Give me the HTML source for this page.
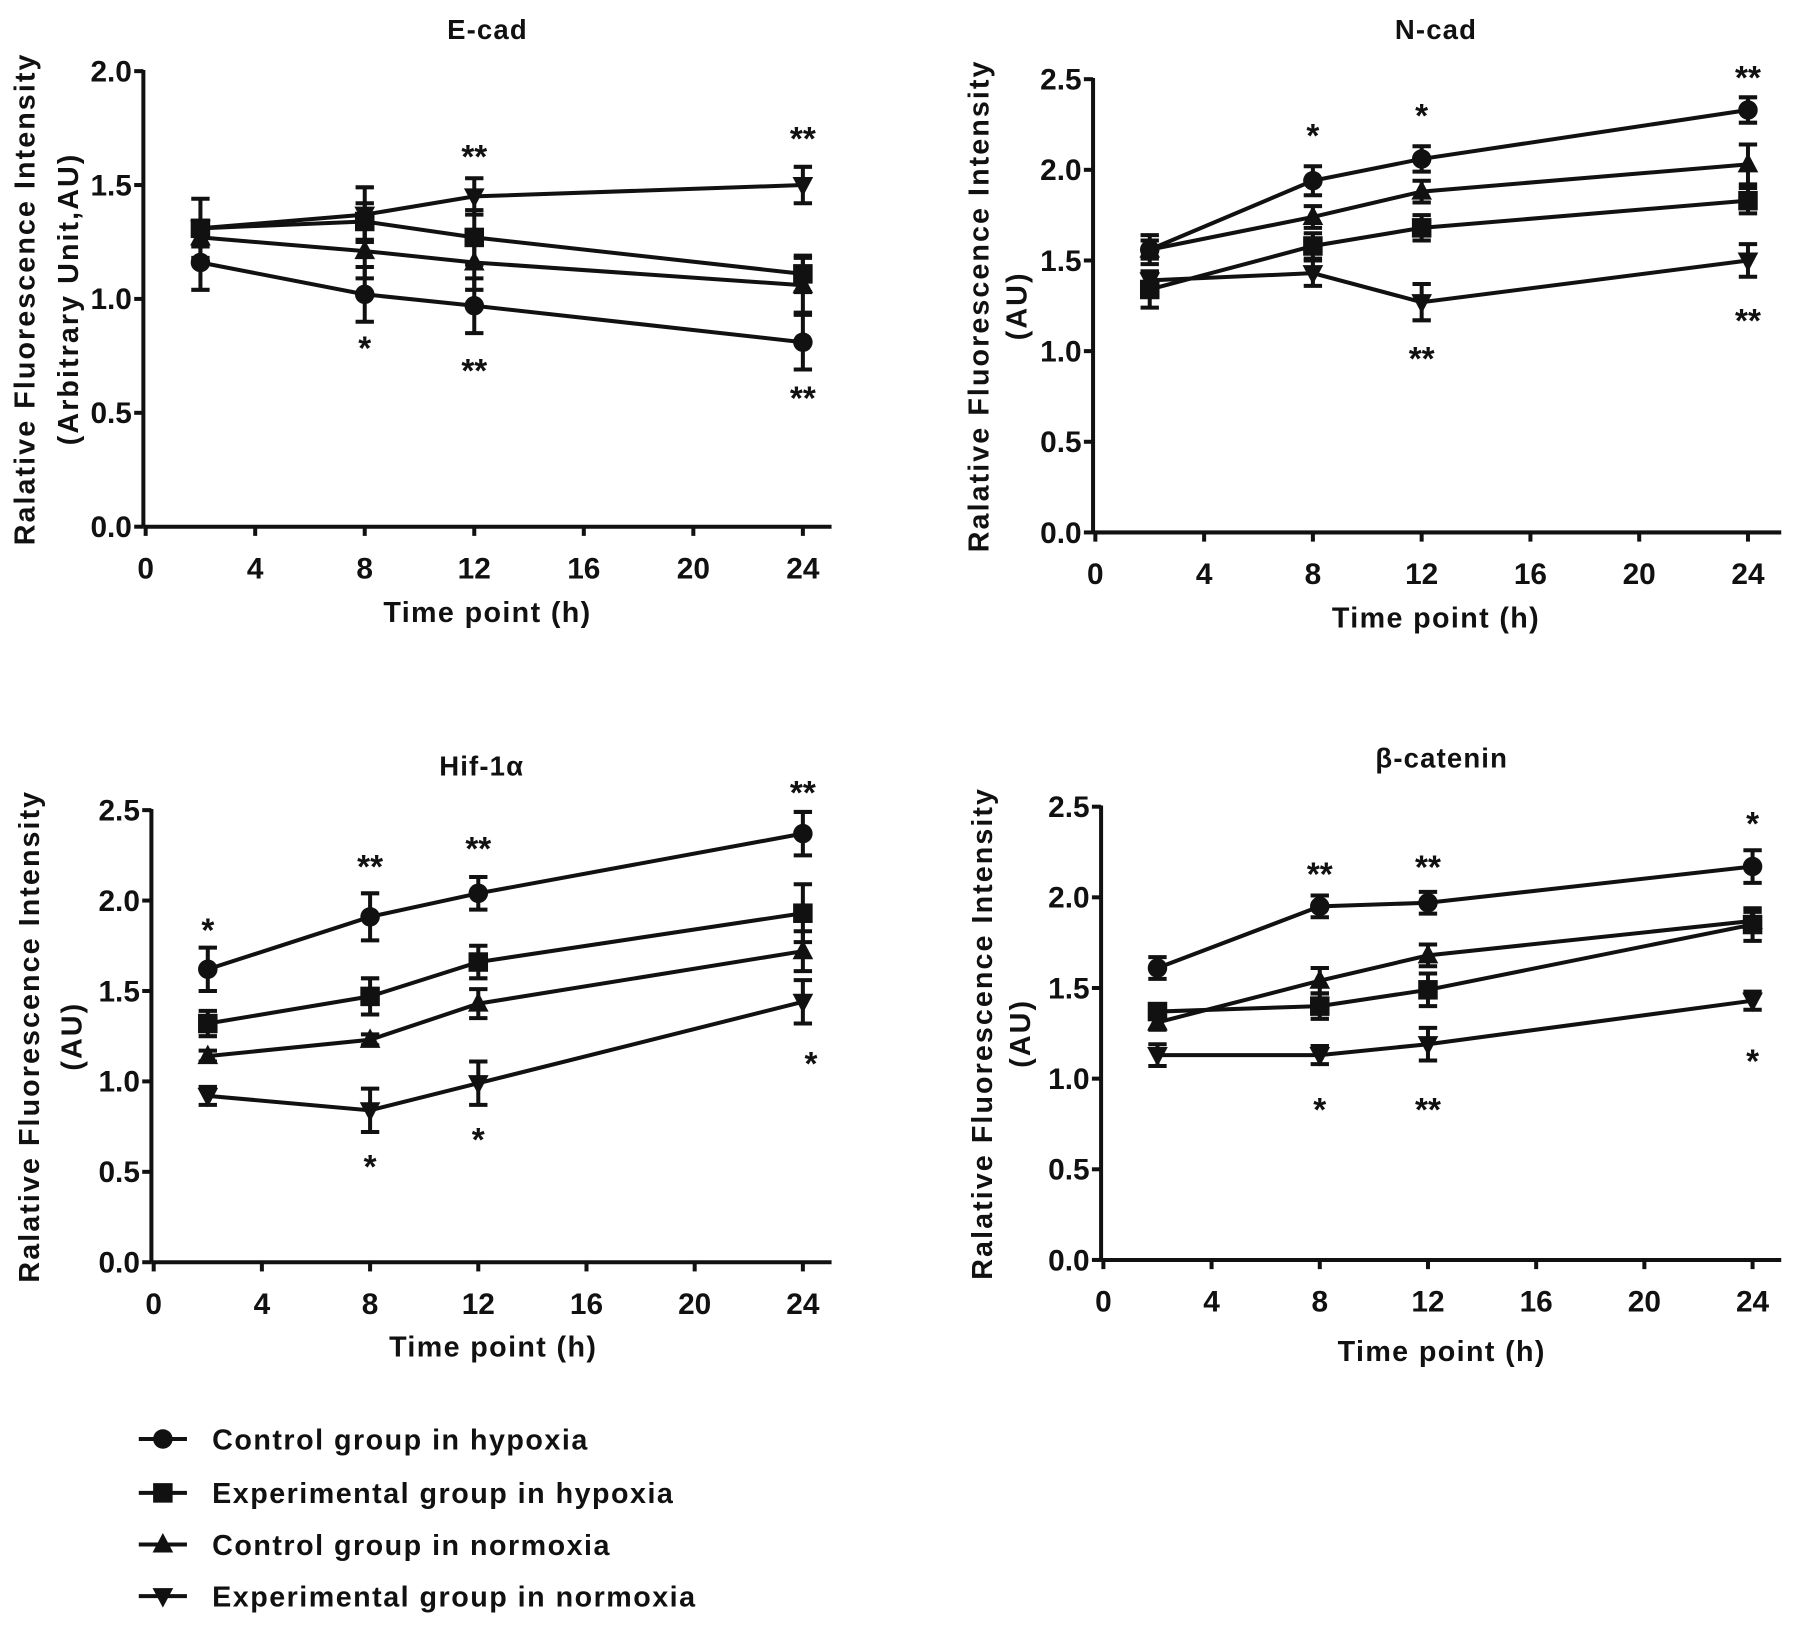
<!DOCTYPE html>
<html><head><meta charset="utf-8"><style>
html,body{margin:0;padding:0;background:#fff;}
svg{display:block;}
text{font-family:"Liberation Sans",Arial,sans-serif;font-weight:bold;fill:#111;}
</style></head><body>
<svg id="fig" width="1795" height="1626" viewBox="0 0 1565 1417" preserveAspectRatio="none" xmlns="http://www.w3.org/2000/svg"></svg>
<script>
const xValues = [2, 8, 12, 24];
const xTicks = [0, 4, 8, 12, 16, 20, 24];

const ecadCtrlHyp = [1.16, 1.02, 0.97, 0.81];
const ecadCtrlHypErr = [0.12, 0.12, 0.12, 0.12];
const ecadExpHyp = [1.31, 1.34, 1.27, 1.11];
const ecadExpHypErr = [0.13, 0.08, 0.12, 0.08];
const ecadCtrlNor = [1.27, 1.21, 1.16, 1.06];
const ecadCtrlNorErr = [0.04, 0.12, 0.12, 0.12];
const ecadExpNor = [1.31, 1.37, 1.45, 1.50];
const ecadExpNorErr = [0.03, 0.12, 0.08, 0.08];

const ncadCtrlHyp = [1.56, 1.94, 2.06, 2.33];
const ncadCtrlHypErr = [0.08, 0.08, 0.07, 0.07];
const ncadExpHyp = [1.34, 1.58, 1.68, 1.83];
const ncadExpHypErr = [0.10, 0.07, 0.07, 0.07];
const ncadCtrlNor = [1.56, 1.74, 1.88, 2.03];
const ncadCtrlNorErr = [0.05, 0.06, 0.06, 0.11];
const ncadExpNor = [1.39, 1.43, 1.27, 1.50];
const ncadExpNorErr = [0.05, 0.07, 0.10, 0.09];

const hifCtrlHyp = [1.62, 1.91, 2.04, 2.37];
const hifCtrlHypErr = [0.12, 0.13, 0.09, 0.12];
const hifExpHyp = [1.32, 1.47, 1.66, 1.93];
const hifExpHypErr = [0.07, 0.10, 0.09, 0.16];
const hifCtrlNor = [1.14, 1.23, 1.43, 1.72];
const hifCtrlNorErr = [0.03, 0.03, 0.08, 0.11];
const hifExpNor = [0.92, 0.84, 0.99, 1.44];
const hifExpNorErr = [0.05, 0.12, 0.12, 0.12];

const betaCtrlHyp = [1.61, 1.95, 1.97, 2.17];
const betaCtrlHypErr = [0.06, 0.06, 0.06, 0.09];
const betaExpHyp = [1.37, 1.40, 1.49, 1.85];
const betaExpHypErr = [0.03, 0.07, 0.09, 0.09];
const betaCtrlNor = [1.31, 1.54, 1.68, 1.87];
const betaCtrlNorErr = [0.04, 0.07, 0.06, 0.05];
const betaExpNor = [1.13, 1.13, 1.19, 1.43];
const betaExpNorErr = [0.06, 0.05, 0.09, 0.05];

const ecadStarX = [8, 12, 24, 12, 24];
const ecadStarY = [0.81, 0.71, 0.59, 1.65, 1.73];
const ecadStarText = ["*", "**", "**", "**", "**"];
const ncadStarX = [8, 12, 24, 12, 24];
const ncadStarY = [2.22, 2.33, 2.54, 0.99, 1.20];
const ncadStarText = ["*", "*", "**", "**", "**"];
const hifStarX = [2, 8, 12, 24, 8, 12, 24.3];
const hifStarY = [1.87, 2.22, 2.32, 2.63, 0.56, 0.71, 1.13];
const hifStarText = ["*", "**", "**", "**", "*", "*", "*"];
const betaStarX = [8, 12, 24, 8, 12, 24];
const betaStarY = [2.16, 2.20, 2.44, 0.86, 0.86, 1.13];
const betaStarText = ["**", "**", "*", "*", "**", "*"];

const seriesNames = ["Control group in hypoxia", "Experimental group in hypoxia", "Control group in normoxia", "Experimental group in normoxia"];
const shapes = ["circle", "square", "tri", "inv"];

const NS = "http://www.w3.org/2000/svg";
const svg = document.getElementById("fig");
function el(tag, attrs, parent) {
  const e = document.createElementNS(NS, tag);
  for (const k in attrs) e.setAttribute(k, attrs[k]);
  (parent || svg).appendChild(e);
  return e;
}
function marker(g, shape, cx, cy, name) {
  let m;
  if (shape === "circle") m = el("circle", {cx: cx, cy: cy, r: 8.5, fill: "#111"}, g);
  else if (shape === "square") m = el("rect", {x: cx - 8.5, y: cy - 8.5, width: 17, height: 17, fill: "#111"}, g);
  else if (shape === "tri") m = el("polygon", {points: `${cx},${cy-10} ${cx-9},${cy+7} ${cx+9},${cy+7}`, fill: "#111"}, g);
  else m = el("polygon", {points: `${cx},${cy+10} ${cx-9},${cy-7} ${cx+9},${cy-7}`, fill: "#111"}, g);
  
  
  return m;
}

function panel(cfg) {
  const g = el("g", {});
  
  
  const xs = v => cfg.x0 + (v / 24) * (cfg.x24 - cfg.x0);
  const ys = v => cfg.y0 - (v / cfg.ymax) * (cfg.y0 - cfg.ytop);
  const ya = el("line", {x1: cfg.ax, y1: ys(cfg.ymax) - 1, x2: cfg.ax, y2: cfg.y0, stroke: "#111", "stroke-width": 3.5}, g);
  
  
  const xa = el("line", {x1: cfg.ax, y1: cfg.y0, x2: cfg.xend, y2: cfg.y0, stroke: "#111", "stroke-width": 3.5}, g);
  
  
  for (let v = 0; v <= cfg.ymax + 1e-9; v += 0.5) {
    el("line", {x1: cfg.ax - 8, y1: ys(v), x2: cfg.ax, y2: ys(v), stroke: "#111", "stroke-width": 3.5}, g);
    const t = el("text", {x: cfg.ax - 10, y: ys(v) + 9, "text-anchor": "end", "font-size": 26}, g);
    t.textContent = v.toFixed(1);
    
    
  }
  xTicks.forEach(v => {
    el("line", {x1: xs(v), y1: cfg.y0, x2: xs(v), y2: cfg.y0 + 8, stroke: "#111", "stroke-width": 3.5}, g);
    const t = el("text", {x: xs(v), y: cfg.y0 + 45, "text-anchor": "middle", "font-size": 26}, g);
    t.textContent = v;
    
    
  });
  const title = el("text", {x: cfg.tx, y: cfg.ty, "text-anchor": "middle", "font-size": 24, "letter-spacing": "1"}, g);
  title.textContent = cfg.title;
  
  
  const xl = el("text", {x: cfg.xlx, y: cfg.xly, "text-anchor": "middle", "font-size": 25, "letter-spacing": "1.2"}, g);
  xl.textContent = "Time point (h)";
  
  
  const cy = (cfg.y0 + ys(cfg.ymax)) / 2;
  const yl1 = el("text", {x: cfg.yl1, y: cy, "text-anchor": "middle", "font-size": 25, "letter-spacing": "1.8", transform: `rotate(-90 ${cfg.yl1} ${cy})`}, g);
  yl1.textContent = "Ralative Fluorescence Intensity";
  
  
  const yl2 = el("text", {x: cfg.yl2, y: cy, "text-anchor": "middle", "font-size": 25, "letter-spacing": "1.8", transform: `rotate(-90 ${cfg.yl2} ${cy})`}, g);
  yl2.textContent = cfg.sub;
  
  
  cfg.series.forEach((s, si) => {
    const sg = el("g", {}, g);
    
    
    const pts = xValues.map((x, i) => `${xs(x)},${ys(s.v[i])}`).join(" ");
    el("polyline", {points: pts, fill: "none", stroke: "#111", "stroke-width": 3.5}, sg);
    xValues.forEach((x, i) => {
      const px = xs(x), top = ys(s.v[i] + s.e[i]), bot = ys(s.v[i] - s.e[i]);
      el("line", {x1: px, y1: top, x2: px, y2: bot, stroke: "#111", "stroke-width": 3.5}, sg);
      el("line", {x1: px - 8, y1: top, x2: px + 8, y2: top, stroke: "#111", "stroke-width": 3.5}, sg);
      el("line", {x1: px - 8, y1: bot, x2: px + 8, y2: bot, stroke: "#111", "stroke-width": 3.5}, sg);
      marker(sg, shapes[si], px, ys(s.v[i]), 'point');
    });
  });
  cfg.starX.forEach((x, i) => {
    const t = el("text", {x: xs(x), y: ys(cfg.starY[i]) + 15, "text-anchor": "middle", "font-size": 29, "font-weight": "normal"}, g);
    t.textContent = cfg.starText[i];
    
    
  });
}

panel({name: "e-cad", title: "E-cad", sub: "(Arbitrary Unit,AU)", ax: 125, x0: 127, x24: 700, xend: 725, y0: 459, ytop: 62, ymax: 2.0,
  tx: 425, ty: 34, xlx: 425, xly: 542, yl1: 30, yl2: 68,
  series: [{v: ecadCtrlHyp, e: ecadCtrlHypErr}, {v: ecadExpHyp, e: ecadExpHypErr}, {v: ecadCtrlNor, e: ecadCtrlNorErr}, {v: ecadExpNor, e: ecadExpNorErr}],
  starX: ecadStarX, starY: ecadStarY, starText: ecadStarText});
panel({name: "n-cad", title: "N-cad", sub: "(AU)", ax: 953, x0: 955, x24: 1524, xend: 1553, y0: 464, ytop: 69, ymax: 2.5,
  tx: 1252, ty: 34, xlx: 1252, xly: 547, yl1: 862, yl2: 895,
  series: [{v: ncadCtrlHyp, e: ncadCtrlHypErr}, {v: ncadExpHyp, e: ncadExpHypErr}, {v: ncadCtrlNor, e: ncadCtrlNorErr}, {v: ncadExpNor, e: ncadExpNorErr}],
  starX: ncadStarX, starY: ncadStarY, starText: ncadStarText});
panel({name: "hif", title: "Hif-1\u03B1", sub: "(AU)", ax: 132, x0: 134, x24: 700, xend: 725, y0: 1100, ytop: 706, ymax: 2.5,
  tx: 420, ty: 676, xlx: 430, xly: 1182, yl1: 34, yl2: 71,
  series: [{v: hifCtrlHyp, e: hifCtrlHypErr}, {v: hifExpHyp, e: hifExpHypErr}, {v: hifCtrlNor, e: hifCtrlNorErr}, {v: hifExpNor, e: hifExpNorErr}],
  starX: hifStarX, starY: hifStarY, starText: hifStarText});
panel({name: "beta-catenin", title: "\u03B2-catenin", sub: "(AU)", ax: 960, x0: 962, x24: 1528, xend: 1553, y0: 1098, ytop: 703, ymax: 2.5,
  tx: 1257, ty: 669, xlx: 1257, xly: 1186, yl1: 865, yl2: 898,
  series: [{v: betaCtrlHyp, e: betaCtrlHypErr}, {v: betaExpHyp, e: betaExpHypErr}, {v: betaCtrlNor, e: betaCtrlNorErr}, {v: betaExpNor, e: betaExpNorErr}],
  starX: betaStarX, starY: betaStarY, starText: betaStarText});

const lg = el("g", {});


const legendY = [1254, 1301, 1346, 1391];
seriesNames.forEach((n, i) => {
  const eg = el("g", {}, lg);
  
  
  el("line", {x1: 121, y1: legendY[i], x2: 163, y2: legendY[i], stroke: "#111", "stroke-width": 3.5}, eg);
  marker(eg, shapes[i], 142, legendY[i], 'legend-marker');
  const t = el("text", {x: 185, y: legendY[i] + 9, "font-size": 25, "letter-spacing": "1.3"}, eg);
  t.textContent = n;
  
  
});
</script>
</body></html>
